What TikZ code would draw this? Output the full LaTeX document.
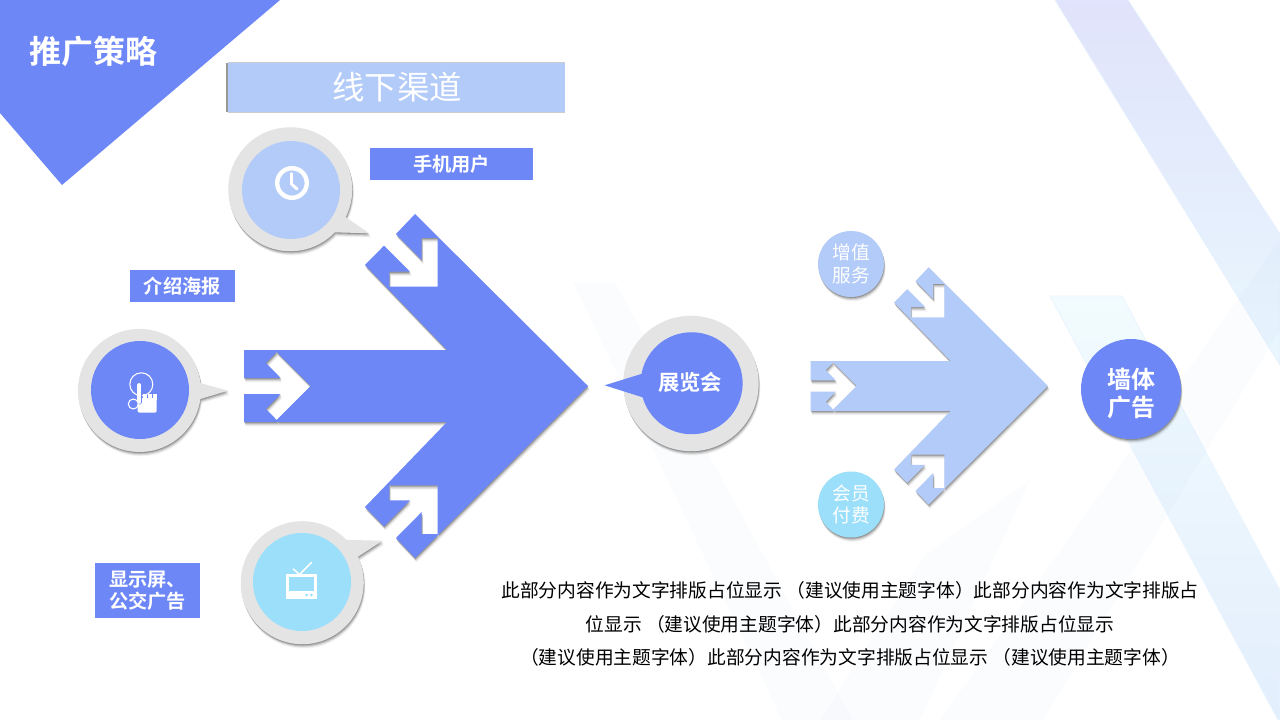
\documentclass[tikz,border=0pt]{standalone}
\usepackage{fontspec}
\setmainfont{Noto Sans CJK SC}
\newfontfamily\boldcjk{Noto Sans CJK SC Bold}
\usetikzlibrary{shadows}
\definecolor{brandblue}{HTML}{6D87F7}
\definecolor{paleblue}{HTML}{B3CBF8}
\definecolor{skyblue}{HTML}{9BDFFB}
\definecolor{ringgrey}{HTML}{E4E4E4}
\definecolor{bandtop}{HTML}{E0E3FB}
\definecolor{bandmid}{HTML}{E5F0FD}
\definecolor{bandend}{HTML}{E9F7FE}
\definecolor{lowtop}{HTML}{F2FCFE}
\definecolor{lowend}{HTML}{E3EEFD}
\definecolor{tint}{HTML}{5080F0}

% outline of the arrow, from the tip round the upper barb, the tail and the lower barb
\newcommand{\arrowoutline}{(588,386) -- (415,214) -- (396,234) -- (421.7,260) -- (421.7,238) -- (437.7,238) -- (437.7,286.7) -- (389.3,286.7) -- (389.3,271.7) -- (410,271.7) -- (384,245.7) -- (365,265) -- (447,350) -- (244,350) -- (244,378) -- (280.7,378) -- (266,363) -- (276.7,352) -- (310.7,386) -- (276.7,420) -- (266,409) -- (280.7,394) -- (244,394) -- (244,422) -- (447,422) -- (365,507) -- (384,526.3) -- (410,500.3) -- (389.3,500.3) -- (389.3,485.3) -- (437.7,485.3) -- (437.7,534) -- (421.7,534) -- (421.7,512) -- (396,538) -- (415,558) -- cycle}

\begin{document}
\begin{tikzpicture}[x=0.75pt,y=-0.75pt]

  % Definitions
  \tikzstyle{softshadow} = [general shadow={shadow xshift=0.3pt,shadow yshift=-0.8pt,fill=black,opacity=0.2},
    general shadow={shadow xshift=0.6pt,shadow yshift=-1.6pt,fill=black,opacity=0.14},
    general shadow={shadow xshift=0.9pt,shadow yshift=-2.4pt,fill=black,opacity=0.09},
    general shadow={shadow xshift=1.2pt,shadow yshift=-3.2pt,fill=black,opacity=0.05}]
  \tikzstyle{tagbox} = [rectangle, fill=brandblue, text=white, font=\boldcjk\fontsize{14.4}{16.5}\selectfont, align=center, inner sep=0pt]
  \tikzstyle{disc} = [circle, draw=none, inner sep=0pt, align=center]
  \tikzstyle{smalldisc} = [disc, softshadow, minimum size=49.5pt, text=white, font=\fontsize{14}{17}\selectfont]
  \tikzstyle{ring} = [fill=ringgrey, softshadow]
  \tikzstyle{icon} = [white, line cap=round]
  \tikzstyle{faint} = [fill=tint, opacity=0.02]

  \useasboundingbox (0,0) rectangle (1280,720);
  \fill[white] (0,0) rectangle (1280,720);

  % Background bands
  \path[top color=lowtop, bottom color=lowend, draw=lowtop!50!lowend, line width=0.6pt] (1050,296) -- (1122,296) -- (1280,590) -- (1280,720) -- (1278,720) -- cycle;
  \path[top color=bandtop, middle color=bandmid, bottom color=bandend, draw=bandmid, line width=0.6pt] (1055,0) -- (1128,0) -- (1280,234) -- (1280,365) -- cycle;
  \fill[faint] (573,282) -- (615,282) -- (853,720) -- (782,720) -- cycle;
  \fill[faint] (820,720) -- (925,555) -- (1030,480) -- (920,720) -- cycle;
  \fill[faint] (1280,240) -- (1280,330) -- (1043,720) -- (940,720) -- cycle;

  % Title and heading
  \fill[brandblue] (0,0) -- (280,0) -- (62,185) -- (0,113) -- cycle;
  \node (title) at (93,51) [text=white, font=\boldcjk\fontsize{24}{28}\selectfont, inner sep=0pt] {推广策略};
  \node (heading) at (396.5,87.5) [rectangle, fill=paleblue, minimum width=252.5pt, minimum height=36.5pt, inner sep=0pt, text=white, font=\fontsize{24.3}{28}\selectfont,
    general shadow={shadow xshift=-1.6pt,shadow yshift=0pt,fill=black,opacity=0.4},
    general shadow={shadow xshift=0pt,shadow yshift=-1.2pt,fill=black,opacity=0.2},
    general shadow={shadow xshift=0pt,shadow yshift=1.2pt,fill=black,opacity=0.2}] {\hspace*{1.2pt}线下渠道};

  % Arrows
  \fill[brandblue, softshadow] \arrowoutline;
  \begin{scope}[shift={(810.6,386)}, xscale=0.69, yscale=0.69, shift={(-244,-386)}]
    \fill[paleblue, softshadow] \arrowoutline;
  \end{scope}

  % Speech bubbles
  \fill[ring] (291,189.5) ++(27:62) -- (369.3,233.3) -- (334.9,232.3) arc[start angle=44, end angle=387, radius=62] -- cycle;
  \fill[ring] (139,390.5) ++(-7:61.5) -- (228,390.7) -- (200.4,399) arc[start angle=8, end angle=353, radius=61.5] -- cycle;
  \fill[ring] (302,583) ++(-44.5:61.5) -- (382.5,540.7) -- (358,556.7) arc[start angle=-25, end angle=315.5, radius=61.5] -- cycle;
  \fill[ring] (691,383.5) circle [radius=67.7];

  \node (clockdisc) at (291,190) [disc, fill=paleblue, minimum size=73.5pt] {};
  \node (handdisc) at (140,390) [disc, fill=brandblue, minimum size=73.5pt] {};
  \node (tvdisc) at (302,582) [disc, fill=skyblue, minimum size=73.5pt] {};

  \fill[brandblue] (691,383) ++(190:51) -- (604.6,385.3) -- (642.6,397.3) arc[start angle=164, end angle=-170, radius=51] -- cycle;
  \node (expo) at (690,382) [text=white, font=\boldcjk\fontsize{16}{19}\selectfont, inner sep=0pt] {展览会};

  % Icons
  \draw[icon, line width=3.3pt] (292,183) circle [radius=14.8];
  \draw[icon, line width=2.2pt] (291.5,173.5) -- (291.5,184) -- (297,189);

  \draw[icon, line width=0.8pt] (141.3,384.3) circle [radius=11.5];
  \draw[icon, line width=0.8pt] (133.3,404) circle [radius=5];
  \fill[white, rounded corners=1pt] (137.5,412.5) -- (137.5,398) -- (156.7,398) -- (156.7,412.5) -- cycle;
  \draw[brandblue, line width=3.6pt, line cap=round] (139.3,384) -- (139.3,402);
  \draw[icon, line width=2.8pt] (139.3,385) -- (139.3,402);
  \foreach \fingerx in {145,150,155} {
    \draw[icon, line width=2.9pt, line cap=butt] (\fingerx,394) -- (\fingerx,400);
  }

  \fill[white] (286,574) rectangle (317,599);
  \fill[skyblue] (289,577.3) rectangle (314,590.7);
  \fill[skyblue] (306.7,595) circle [radius=1.5] (311.3,595) circle [radius=1.5];
  \draw[icon, line width=1.1pt] (300,574) -- (311.7,562.3);
  \draw[icon, line width=1.1pt] (299,574) -- (293.3,569);

  % Labels
  \node (phone) at (451.5,164) [tagbox, minimum width=122.2pt, minimum height=24pt] {手机用户};
  \node (poster) at (182.3,286) [tagbox, minimum width=78.4pt, minimum height=24pt] {介绍海报};
  \node (screens) at (147.5,590.5) [tagbox, minimum width=78.7pt, minimum height=41pt] {显示屏、\\公交广告};

  \node (service) at (851,264) [smalldisc, fill=paleblue] {增值\\服务};
  \node (member) at (851,504.5) [smalldisc, fill=skyblue] {会员\\付费};
  \node (walldisc) at (1131,389) [disc, softshadow, fill=brandblue, minimum size=75pt] {};
  \node (wall) at (1131,394) [text=white, font=\boldcjk\fontsize{18}{21}\selectfont, align=center, inner sep=0pt] {墙体\\广告};

  \node (note) at (850,624) [text=black, font=\fontsize{14.05}{25}\selectfont, align=center, inner sep=0pt] {此部分内容作为文字排版占位显示 （建议使用主题字体）此部分内容作为文字排版占\\位显示 （建议使用主题字体）此部分内容作为文字排版占位显示\\（建议使用主题字体）此部分内容作为文字排版占位显示 （建议使用主题字体）};

\end{tikzpicture}
\end{document}
